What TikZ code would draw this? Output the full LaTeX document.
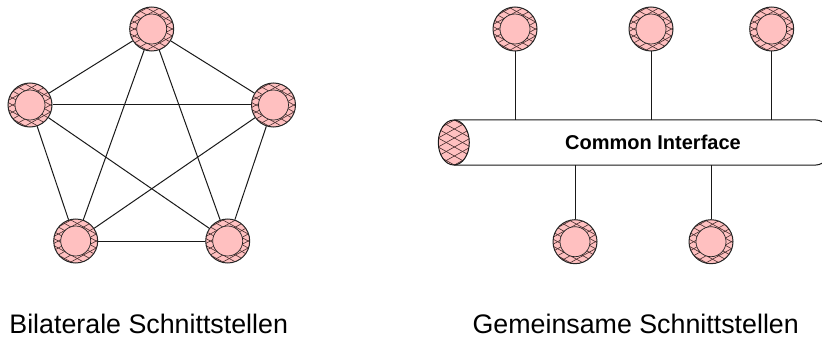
\documentclass[tikz,border=0pt]{standalone}
\usepackage{fontspec}
\setmainfont{Liberation Sans}
\definecolor{nodepink}{RGB}{255,192,192}
\definecolor{hatchcol}{RGB}{70,45,45}
\tikzset{
  hatchline/.style={draw=hatchcol, line width=0.6pt},
  station/.style={circle, draw=black!85, line width=1pt, minimum size=44pt, inner sep=0pt, fill=nodepink,
    path picture={
      \begin{scope}[shift={(path picture bounding box.center)}]
        \foreach \k in {-10,...,10} {
          \draw[hatchline] (-30pt,\k*7pt) -- ++(60pt,33.3pt);
          \draw[hatchline] (-30pt,\k*7pt) -- ++(60pt,-33.3pt);
        }
        \draw[draw=black!85, line width=0.7pt, fill=nodepink] (0,0) circle (15pt);
      \end{scope}
    }},
  link/.style={draw=black!90, line width=1pt},
  bus/.style={draw=black!90, line width=1pt},
  caption/.style={font=\fontsize{26.8}{30}\selectfont, anchor=base, inner sep=0pt},
  buslabel/.style={font=\fontsize{20}{24}\selectfont\bfseries, anchor=base, inner sep=0pt}
}
\begin{document}
\begin{tikzpicture}[x=1pt,y=1pt]
\useasboundingbox (0,0) rectangle (822,338);
\clip (0,0) rectangle (822,338);
% Left: fully meshed pentagon
\node[station] (p1) at (151.7,309) {};
\node[station] (p2) at (30,233) {};
\node[station] (p3) at (273.5,233) {};
\node[station] (p4) at (75.7,97) {};
\node[station] (p5) at (227.7,97) {};
\foreach \a/\b in {p1/p2,p1/p3,p1/p4,p1/p5,p2/p3,p2/p4,p2/p5,p3/p4,p3/p5,p4/p5}
  \draw[link] (\a) -- (\b);
% Right: common bus
\draw[bus, fill=white] (453.8,218) -- (816,218) arc[start angle=90, end angle=-90, x radius=15.5pt, y radius=22.5pt] -- (453.8,173);
\begin{scope}
  \clip (453.8,195.5) ellipse [x radius=15.5pt, y radius=22.5pt];
  \fill[nodepink] (430,170) rectangle (480,220);
  \foreach \k in {-10,...,10} {
    \draw[hatchline] (430,195.5+\k*9) -- ++(50,27.7);
    \draw[hatchline] (430,195.5+\k*9) -- ++(50,-27.7);
  }
\end{scope}
\draw[bus] (453.8,195.5) ellipse [x radius=15.5pt, y radius=22.5pt];
\coordinate (bustop) at (453.8,218);
\coordinate (busbot) at (453.8,173);
\node[buslabel] (cif) at (653,189) {Common Interface};
\node[station] (t1) at (515,309) {};
\node[station] (t2) at (651,309) {};
\node[station] (t3) at (771.7,309) {};
\node[station] (b1) at (575,96.3) {};
\node[station] (b2) at (711,96.3) {};
\draw[link] (t1) -- (t1 |- bustop);
\draw[link] (t2) -- (t2 |- bustop);
\draw[link] (t3) -- (t3 |- bustop);
\draw[link] (b1) -- (b1 |- busbot);
\draw[link] (b2) -- (b2 |- busbot);
% Captions
\node[caption] (capL) at (148.7,5) {Bilaterale Schnittstellen};
\node[caption] (capR) at (635.7,5) {Gemeinsame Schnittstellen};
\end{tikzpicture}
\end{document}
